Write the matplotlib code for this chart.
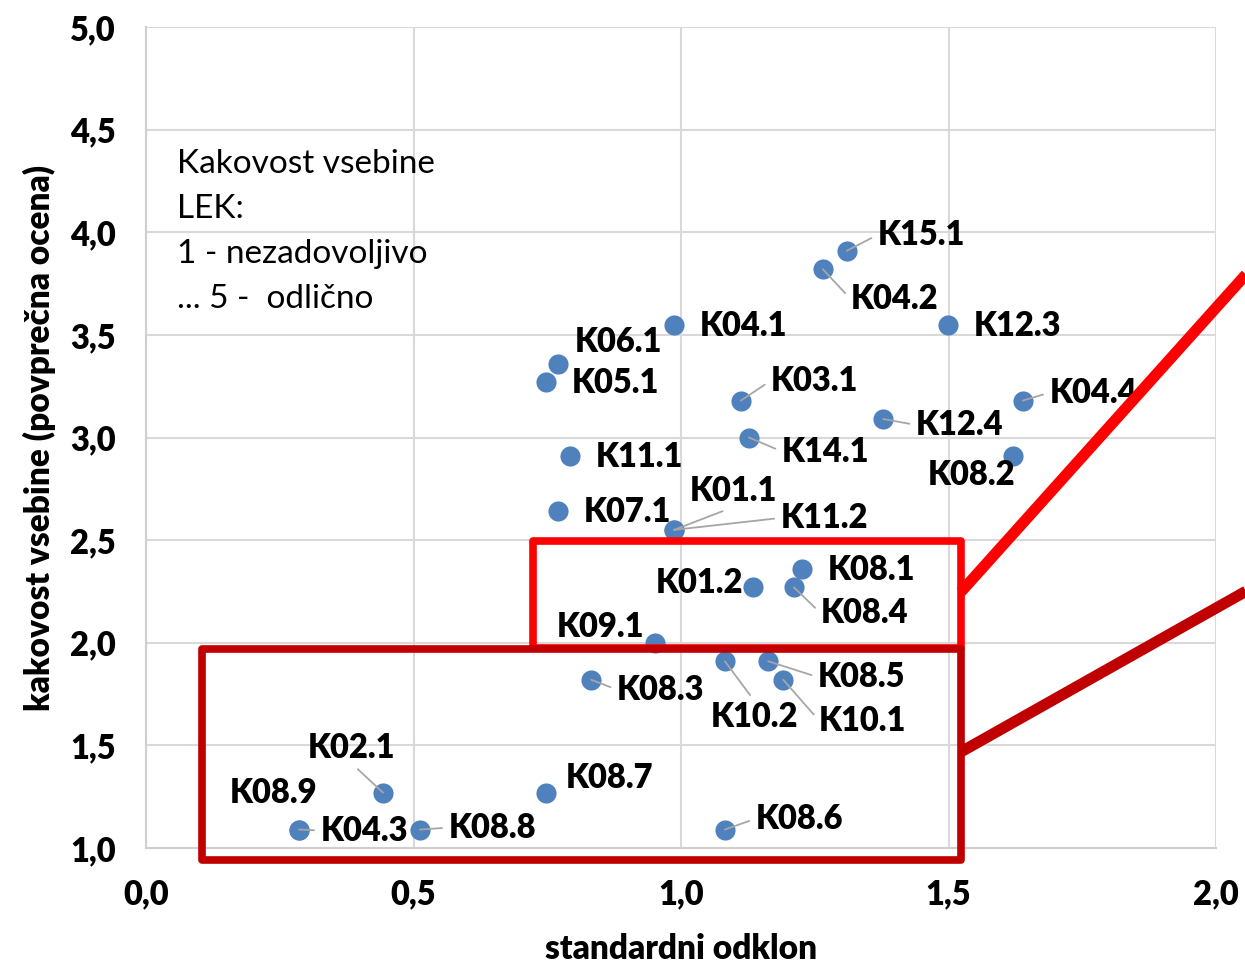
import matplotlib
matplotlib.use("Agg")
import matplotlib.pyplot as plt
from matplotlib.patches import Rectangle

plt.rcParams['font.family'] = ['Lato', 'DejaVu Sans']

# podatki
labels = ['K15.1', 'K04.2', 'K12.3', 'K04.1', 'K06.1', 'K05.1', 'K03.1', 'K04.4',
          'K12.4', 'K14.1', 'K11.1', 'K08.2', 'K07.1', 'K01.1', 'K11.2', 'K08.1',
          'K01.2', 'K08.4', 'K09.1', 'K10.2', 'K08.5', 'K08.3', 'K10.1', 'K02.1',
          'K08.7', 'K08.9', 'K04.3', 'K08.8', 'K08.6']
std_dev = [1.310, 1.265, 1.499, 0.987, 0.770, 0.748, 1.112, 1.639,
           1.378, 1.127, 0.793, 1.621, 0.770, 0.987, 0.987, 1.226,
           1.135, 1.211, 0.951, 1.082, 1.163, 0.832, 1.191, 0.443,
           0.748, 0.286, 0.286, 0.512, 1.082]
mean_score = [3.91, 3.82, 3.55, 3.55, 3.36, 3.27, 3.18, 3.18,
              3.09, 3.00, 2.91, 2.91, 2.64, 2.55, 2.55, 2.36,
              2.27, 2.27, 2.00, 1.91, 1.91, 1.82, 1.82, 1.27,
              1.27, 1.09, 1.09, 1.09, 1.09]
x_ticks = [0.0, 0.5, 1.0, 1.5, 2.0]
y_ticks = [1.0, 1.5, 2.0, 2.5, 3.0, 3.5, 4.0, 4.5, 5.0]

# odmiki oznak (v pikslih) in ali imajo povezovalno crto
label_pos = {
    'K15.1': (31, 16, True), 'K04.2': (28, -30, True), 'K12.3': (26, -1, False),
    'K04.1': (26, -1, False), 'K06.1': (17, 22, False), 'K05.1': (26, -1, False),
    'K03.1': (30, 20, True), 'K04.4': (27, 8, True), 'K12.4': (33, -6, True),
    'K14.1': (33, -14, True), 'K11.1': (25, -1, False), 'K08.2': (-85, -19, False),
    'K07.1': (26, -1, False), 'K01.1': (16, 39, True), 'K11.2': (107, 12, True),
    'K08.1': (26, -1, False), 'K01.2': (-97, 4, False), 'K08.4': (27, -26, True),
    'K09.1': (-98, 16, False), 'K10.2': (-14, -56, True), 'K08.5': (50, -16, True),
    'K08.3': (26, -10, True), 'K10.1': (36, -41, True), 'K02.1': (-75, 45, True),
    'K08.7': (20, 15, False), 'K08.9': (-69, 37, False), 'K04.3': (22, -1, True),
    'K08.8': (29, 2, True), 'K08.6': (31, 11, True),
}
relpos = {'K01.1': (0.5, 0.0), 'K10.2': (0.5, 1.0), 'K02.1': (0.5, 0.0)}

fig = plt.figure(figsize=(12.45, 9.64), dpi=100)
ax = fig.add_axes([0.1173, 0.1203, 0.8594, 0.8517])

ax.set_xlim(0, 2.0)
ax.set_ylim(1.0, 5.0)
ax.set_xticks(x_ticks)
ax.set_yticks(y_ticks)
ax.set_xticklabels([f'{v:.1f}'.replace('.', ',') for v in x_ticks])
ax.set_yticklabels([f'{v:.1f}'.replace('.', ',') for v in y_ticks])
ax.tick_params(length=0, labelsize=23.5, pad=22)
for t in ax.get_xticklabels() + ax.get_yticklabels():
    t.set_fontweight('heavy')
ax.grid(True, color='#d9d9d9', lw=1.5)
ax.set_axisbelow(True)
for s in ['top', 'right']:
    ax.spines[s].set_visible(False)
for s in ['left', 'bottom']:
    ax.spines[s].set_color('#cfcfcf')
    ax.spines[s].set_linewidth(1.5)

ax.set_xlabel('standardni odklon', fontsize=24, fontweight='heavy', labelpad=16)
ax.set_ylabel('kakovost vsebine (povprečna ocena)', fontsize=24, fontweight='heavy', labelpad=10)

ax.scatter(std_dev, mean_score, s=210, color='#4f81bd', zorder=3, linewidths=0)

for lab, x, y in zip(labels, std_dev, mean_score):
    dx, dy, leader = label_pos[lab]
    arrow = None
    if leader:
        arrow = dict(arrowstyle='-', color='#a6a6a6', lw=1.3, shrinkA=3, shrinkB=0,
                     relpos=relpos.get(lab, (0.0, 0.5)))
    ax.annotate(lab, (x, y), xytext=(dx, dy), textcoords='offset pixels',
                ha='left', va='center', fontsize=23.5, fontweight='heavy',
                arrowprops=arrow, zorder=4)

ax.text(0.029, 0.851, 'Kakovost vsebine\nLEK:\n1 - nezadovoljivo\n... 5 -  odlično',
        transform=ax.transAxes, fontsize=24, va='top', ha='left', linespacing=1.62)

# oznaceni obmocji
ax.add_patch(Rectangle((0.723, 1.974), 0.800, 0.521, fill=False, ec='#ff0000', lw=5.5,
                       joinstyle='round', clip_on=False, zorder=5))
ax.add_patch(Rectangle((0.105, 0.942), 1.418, 1.030, fill=False, ec='#c00000', lw=5.5,
                       joinstyle='round', clip_on=False, zorder=5))
ax.plot([1.523, 2.06], [2.247, 3.806], color='#ff0000', lw=8, clip_on=False,
        solid_capstyle='butt', zorder=5)
ax.plot([1.523, 2.06], [1.468, 2.257], color='#c00000', lw=8, clip_on=False,
        solid_capstyle='butt', zorder=5)

fig.savefig('out.png', dpi=100)
